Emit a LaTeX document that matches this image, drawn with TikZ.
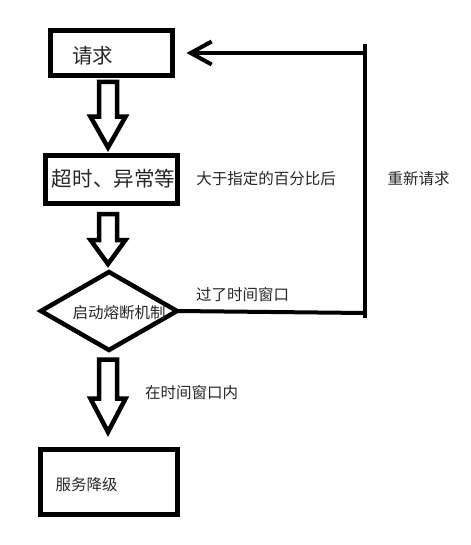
\documentclass[tikz,border=0pt]{standalone}
\usepackage{fontspec}
\newfontfamily\cjk{Noto Sans CJK SC}
\usetikzlibrary{calc,shapes.geometric,arrows.meta}
\tikzset{
  box/.style={draw, line width=5bp, rectangle, inner sep=0pt, outer sep=0pt},
  dia/.style={draw, line width=4.5bp, diamond, inner sep=0pt, outer sep=0pt,
              minimum width=136bp, minimum height=78bp, line join=miter},
  small/.style={font=\cjk\fontsize{15.5bp}{19bp}\selectfont, inner sep=0pt, text=black!85},
  big/.style={font=\cjk\fontsize{20.5bp}{24bp}\selectfont, inner sep=0pt, text=black!85},
  hollow/.style={draw, line width=4.5bp, line join=miter},
  loopline/.style={draw, line width=4bp},
  barb/.style={-{Straight Barb[length=21bp,width=23bp,line width=4bp]}},
}
\newcommand\hollowarrow[5]{% from, to, start offset, end offset, head fraction
  \coordinate (ha-s) at ($(axis |- #1.south)+(0,#3)$);
  \coordinate (ha-t) at ($(axis |- #2.north)+(0,#4)$);
  \coordinate (ha-h) at ($(ha-s)!#5!(ha-t)$);
  \draw[hollow] ($(ha-s)+(-9,0)$) -- ($(ha-s)+(9,0)$) -- ($(ha-h)+(9,0)$)
     -- ($(ha-h)+(17.5,0)$) -- (ha-t) -- ($(ha-h)+(-17.5,0)$)
     -- ($(ha-h)+(-9,0)$) -- cycle;}
\begin{document}
\begin{tikzpicture}[x=1bp,y=-1bp]
\useasboundingbox (0,0) rectangle (471,545);
\coordinate (axis) at (108,0);
% boxes
\node[box, minimum width=122bp, minimum height=45bp] (b1) at (111.5,53) {};
\node[big] (t1) at (92.5,56) {请求};
\node[box, minimum width=132bp, minimum height=48bp] (b2) at (111.5,179.5) {};
\node[big] (t2) at (113.5,178.5) {超时、异常等};
\node[dia] (d) at (109,311) {};
\node[small] (td) at (119,313) {启动熔断机制};
\node[box, minimum width=137bp, minimum height=65bp] (b4) at (109,482) {};
\node[small] (t4) at (86.5,485) {服务降级};
% labels
\node[small] (l1) at (266,178.5) {大于指定的百分比后};
\node[small] (l2) at (418.5,178.5) {重新请求};
\node[small] (l3) at (242.5,295) {过了时间窗口};
\node[small] (l4) at (191.5,393) {在时间窗口内};
% hollow arrows
\hollowarrow{b1}{b2}{6.5}{-8}{0.53}
\hollowarrow{b2}{d}{10.5}{-8}{0.52}
\hollowarrow{d}{b4}{9.5}{-17.5}{0.54}
% loop back
\coordinate (c1) at (365,313);
\coordinate (c2) at (365,53);
\draw[loopline] (d.east) -- (c1);
\draw[loopline] ($(c1)+(0,5)$) -- ($(c2)+(0,-9)$);
\draw[loopline, barb] (c2) -- ($(b1.east)+(14,0)$);
\end{tikzpicture}
\end{document}
